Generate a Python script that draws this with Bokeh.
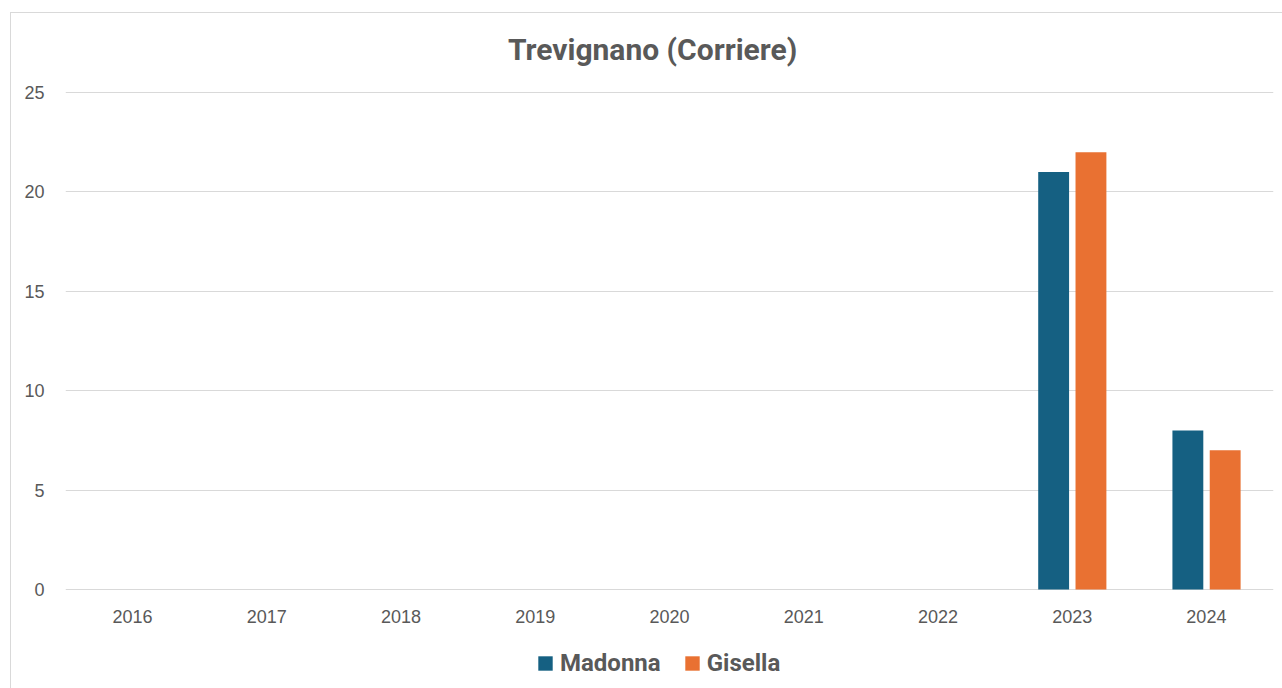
from bokeh.plotting import figure
from bokeh.models import ColumnDataSource, Range1d, FactorRange, Legend, LegendItem, Label, FixedTicker
from bokeh.transform import dodge
from bokeh.embed import file_html
from bokeh.resources import INLINE

# ---- data ----
years = ["2016", "2017", "2018", "2019", "2020", "2021", "2022", "2023", "2024"]
madonna = [0, 0, 0, 0, 0, 0, 0, 21, 8]
gisella = [0, 0, 0, 0, 0, 0, 0, 22, 7]
y_ticks = [0, 5, 10, 15, 20, 25]
series_names = ["Madonna", "Gisella"]
title_text = "Trevignano (Corriere)"

src = ColumnDataSource(dict(years=years, madonna=madonna, gisella=gisella))

TEXT = "#595959"
GRID = "#d9d9d9"
BOLD = "Roboto"

# frame spans the whole chart area; value axis 0..25 occupies 497 px of it
PX_PER_UNIT = 497 / 25
y_bottom = -100 / PX_PER_UNIT
y_top = 25 + 79 / PX_PER_UNIT

p = figure(x_range=FactorRange(*years), y_range=Range1d(y_bottom, y_top),
           frame_width=1208, frame_height=676, output_backend="svg", toolbar_location=None,
           min_border_left=54, min_border_right=10, min_border_top=0, min_border_bottom=0)
p.margin = (12, 0, 0, 10)
p.styles = {"border-left": "1px solid #d9d9d9", "border-top": "1px solid #d9d9d9"}
p.outline_line_color = None
p.background_fill_color = "white"
p.border_fill_color = "white"

r1 = p.vbar(x=dodge("years", -0.138, range=p.x_range), top="madonna", width=0.23,
            source=src, fill_color="#156082", line_color=None)
r2 = p.vbar(x=dodge("years", 0.14, range=p.x_range), top="gisella", width=0.23,
            source=src, fill_color="#E97132", line_color=None)

p.xgrid.grid_line_color = None
p.ygrid.grid_line_color = GRID
p.ygrid.grid_line_width = 1
p.yaxis.ticker = FixedTicker(ticks=y_ticks)
p.xaxis.fixed_location = 0

for ax in (p.xaxis, p.yaxis):
    ax.axis_line_color = None
    ax.major_tick_line_color = None
    ax.minor_tick_line_color = None
    ax.major_tick_out = 0
    ax.major_tick_in = 0
    ax.major_label_text_color = TEXT
    ax.major_label_text_font = "Liberation Sans"
    ax.major_label_text_font_size = "18px"
p.yaxis.major_label_standoff = 21
p.xaxis.major_label_standoff = 20

title = Label(x=4.374, y=25 + 43 / PX_PER_UNIT, text=title_text,
              text_align="center", text_baseline="middle",
              text_font=BOLD, text_font_style="bold",
              text_font_size="30px", text_color=TEXT)
p.add_layout(title)

legend = Legend(items=[LegendItem(label=series_names[0], renderers=[r1]),
                       LegendItem(label=series_names[1], renderers=[r2])],
                orientation="horizontal", location=(471, 12),
                glyph_width=18, glyph_height=18, label_standoff=6, spacing=22,
                padding=0, margin=0, border_line_color=None, background_fill_alpha=0,
                label_text_font=BOLD, label_text_font_style="bold",
                label_text_font_size="24px", label_text_color=TEXT)
p.add_layout(legend, "center")

open("out.html", "w").write(file_html(p, INLINE))
